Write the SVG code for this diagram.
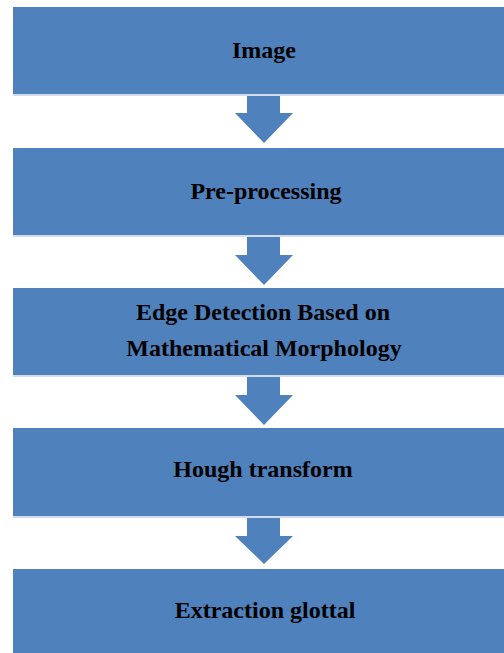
<svg xmlns="http://www.w3.org/2000/svg" width="504" height="653" viewBox="0 0 504 653">
  <style>
    .box { fill: #4f81bd; }
    .rim { fill: #d3dcee; }
    .arrow { fill: #4f81bd; }
    .label { font-family: "Liberation Serif", "Times New Roman", serif; font-weight: bold; font-size: 24px; fill: #000; text-anchor: middle; }
  </style>
  <rect width="504" height="653" fill="#ffffff"/>

  <!-- connectors: block arrows between stages -->
  <g id="connectors">
    <polygon class="arrow" points="247,94 280,94 280,113 293,113 264,143 235,113 247,113"/>
    <polygon class="arrow" points="247,235 280,235 280,255 293,255 264,285 235,255 247,255"/>
    <polygon class="arrow" points="247,375 280,375 280,395 293,395 264,425 235,395 247,395"/>
    <polygon class="arrow" points="247,516 280,516 280,536 293,536 264,564 235,536 247,536"/>
  </g>

  <g id="node-image">
    <rect class="rim" x="13" y="94" width="491" height="2"/>
    <rect class="box" x="13" y="7" width="491" height="87"/>
    <text class="label" x="264" y="58">Image</text>
  </g>

  <g id="node-preprocessing">
    <rect class="rim" x="13" y="235" width="491" height="2"/>
    <rect class="box" x="13" y="148" width="491" height="87"/>
    <text class="label" x="266" y="199">Pre-processing</text>
  </g>

  <g id="node-edge-detection">
    <rect class="rim" x="13" y="375" width="491" height="2"/>
    <rect class="box" x="13" y="288" width="491" height="87"/>
    <text class="label" x="263" y="320">Edge Detection Based on</text>
    <text class="label" x="264" y="356">Mathematical Morphology</text>
  </g>

  <g id="node-hough">
    <rect class="rim" x="13" y="516" width="491" height="2"/>
    <rect class="box" x="13" y="428" width="491" height="88"/>
    <text class="label" x="263" y="477">Hough transform</text>
  </g>

  <g id="node-extraction">
    <rect class="box" x="13" y="569" width="491" height="84"/>
    <text class="label" x="265" y="618">Extraction glottal</text>
  </g>
</svg>
